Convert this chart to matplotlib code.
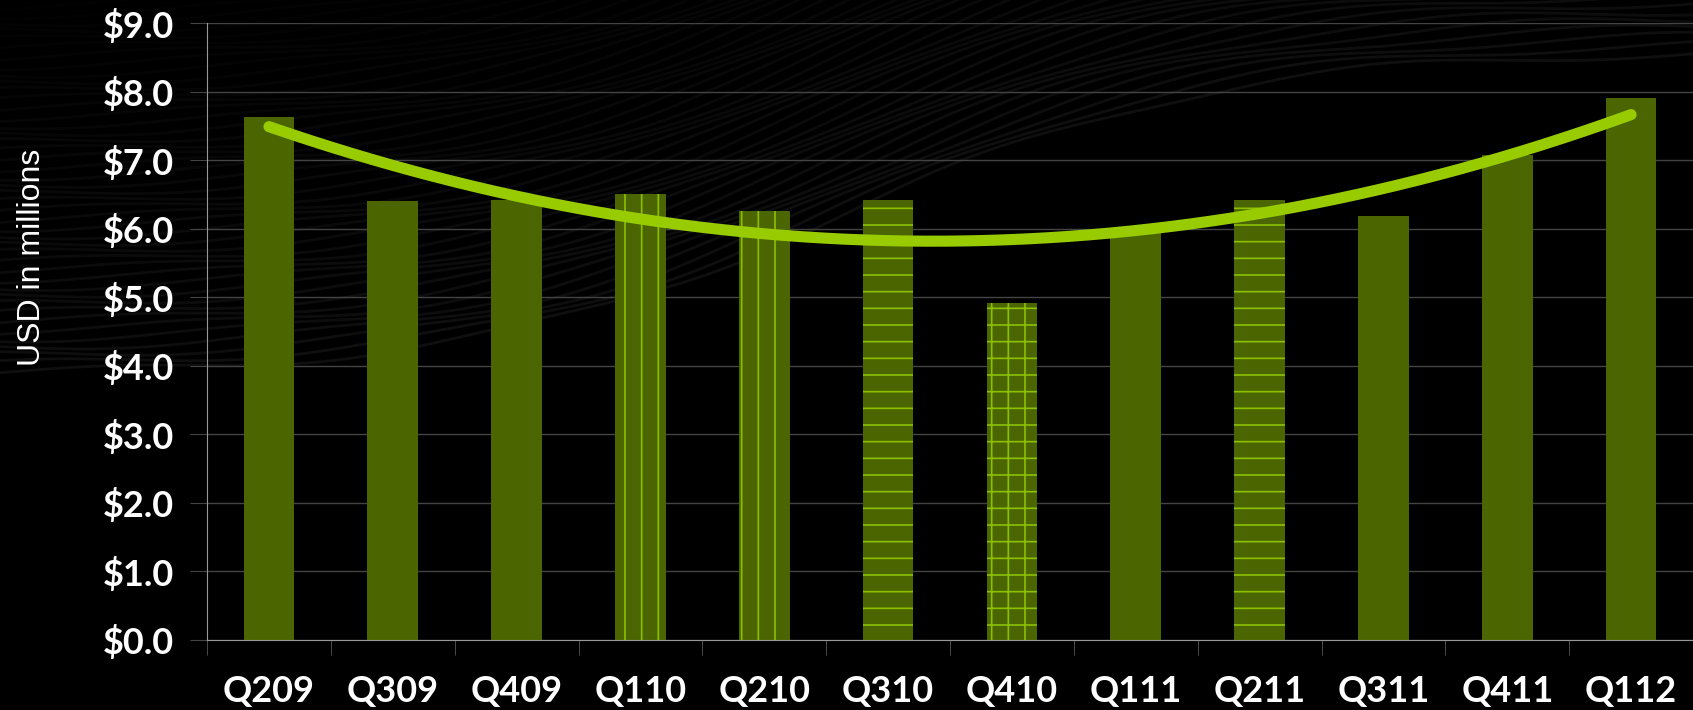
import numpy as np
import matplotlib
matplotlib.use("Agg")
import matplotlib.pyplot as plt

# quarterly values, USD in millions
quarters = ['Q209', 'Q309', 'Q409', 'Q110', 'Q210', 'Q310',
            'Q410', 'Q111', 'Q211', 'Q311', 'Q411', 'Q112']
revenue = [7.63, 6.41, 6.42, 6.51, 6.26, 6.42, 4.92, 5.97, 6.42, 6.19, 7.08, 7.90]
hatches = ['', '', '', '|', '|', '-', '+', '', '-', '', '', '']
yticks = [0, 1, 2, 3, 4, 5, 6, 7, 8, 9]

bar_color = '#4b6600'
hatch_color = '#8cbf00'
line_color = '#99cc00'

plt.rcParams['hatch.linewidth'] = 1.2

fig = plt.figure(figsize=(16.93, 7.10), dpi=100, facecolor='black')

# faint streaky backdrop like the slide background
bg = fig.add_axes([0, 0, 1, 1], zorder=-1)
bg.set_xlim(0, 1)
bg.set_ylim(0, 1)
bg.axis('off')
u = np.linspace(0, 1, 300)
base = 0.47 + 0.46 / (1 + np.exp(-(u - 0.5) * 9))
for k in range(45):
    off = k * 0.012
    bg.plot(u, base + off + 0.006 * np.sin(u * 25 + k), color='#9a9a9a',
            lw=2, alpha=0.1 * (1 - k / 50))

ax = fig.add_axes([0.1223, 0.0986, 0.8777, 0.869])
ax.set_facecolor('none')

x = np.arange(len(quarters))
bars = ax.bar(x, revenue, width=0.41, color=bar_color, edgecolor=hatch_color,
              linewidth=0, zorder=2)
for b, h in zip(bars, hatches):
    if h:
        b.set_hatch(h)

# polynomial trend line through the quarterly values
coef = np.polyfit(x, revenue, 2)
xs = np.linspace(x[0], x[-1], 200)
ax.plot(xs, np.polyval(coef, xs), color=line_color, lw=8,
        solid_capstyle='round', zorder=3)

ax.set_xlim(-0.5, len(quarters) - 0.5)
ax.set_ylim(0, 9)
ax.set_yticks(yticks)
ax.set_yticklabels(['${:.1f}'.format(v) for v in yticks])
ax.set_xticks(x)
ax.set_xticklabels(quarters)
ax.set_xticks(np.arange(-0.5, len(quarters), 1.0), minor=True)

ax.grid(axis='y', color='#444444', lw=1, zorder=0)
for s in ['top', 'right']:
    ax.spines[s].set_visible(False)
ax.spines['left'].set_color('#999999')
ax.spines['bottom'].set_color('#999999')

ax.tick_params(axis='y', colors='#444444', length=12, pad=12, labelcolor='white',
               labelsize=26)
ax.tick_params(axis='x', which='major', length=0, pad=25, labelcolor='white',
               labelsize=26)
ax.tick_params(axis='x', which='minor', length=11, color='#555555')
for lab in ax.get_yticklabels() + ax.get_xticklabels():
    lab.set_fontfamily('Lato')
    lab.set_fontweight('bold')

fig.text(0.019, 0.638, 'USD in millions', rotation=90, color='white',
         fontsize=23, family='Liberation Sans', ha='center', va='center')

fig.savefig('out.png', dpi=100, facecolor='black')
